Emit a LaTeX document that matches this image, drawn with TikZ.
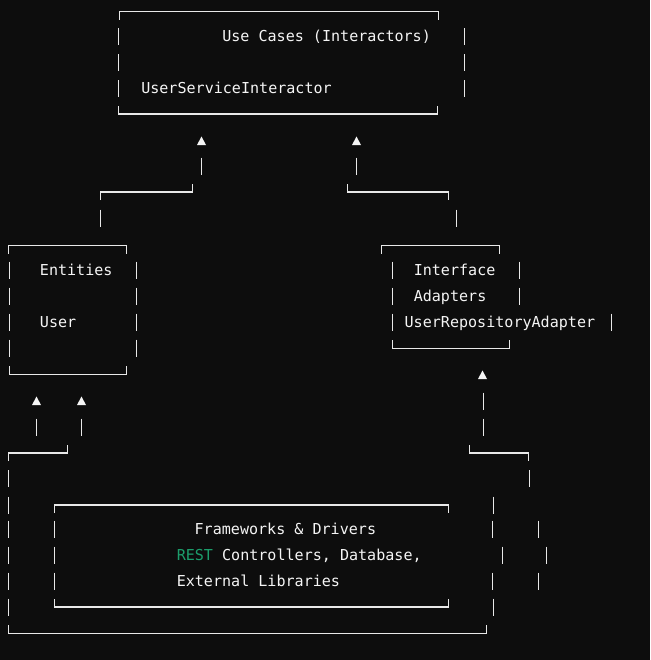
\documentclass[tikz,border=0pt]{standalone}
\usepackage{fontspec}
\setmonofont{DejaVu Sans Mono}
\usepackage{tikz}

\definecolor{termbg}{RGB}{13,13,13}
\definecolor{termline}{RGB}{232,232,232}
\definecolor{termtext}{RGB}{245,245,245}
\definecolor{termgreen}{RGB}{28,158,108}

\begin{document}
\begin{tikzpicture}[x=0.75pt,y=0.75pt,yscale=-1,xscale=1,
  box/.style={color=termline,line width=1pt},
  tip/.style={fill=termtext,draw=none},
  txt/.style={anchor=base west,inner sep=0pt,text=termtext,font=\ttfamily\fontsize{11.3}{13}\selectfont}]
%set diagram left start at 0, and has height of 660
\fill [termbg] (0,0) rectangle (650,660);

%Shape: Use Cases box
\draw [box] (119.5,19.7) -- (119.5,11.7) -- (438.5,11.7) -- (438.5,19.7) ;
\draw [box] (118.5,28.4) -- (118.5,45.4) (118.5,54.3) -- (118.5,71.3) (118.5,80.3) -- (118.5,97.3) ;
\draw [box] (464.5,28.4) -- (464.5,45.4) (464.5,54.3) -- (464.5,71.3) (464.5,80.3) -- (464.5,97.3) ;
\draw [box] (118.5,106) -- (118.5,114) -- (437.5,114) -- (437.5,106) ;

%Shape: arrows into Use Cases
\fill [tip] (197,145) -- (201.5,136.5) -- (206,145) -- cycle ;
\fill [tip] (352,145) -- (356.5,136.5) -- (361,145) -- cycle ;
\draw [box] (201.5,157.5) -- (201.5,174.5) ;
\draw [box] (356.5,157.5) -- (356.5,174.5) ;
\draw [box] (100.5,200) -- (100.5,192) -- (192.5,192) -- (192.5,184) ;
\draw [box] (347.5,184) -- (347.5,192) -- (448.5,192) -- (448.5,200) ;
\draw [box] (100.5,209.5) -- (100.5,226.5) ;
\draw [box] (456.5,209.5) -- (456.5,226.5) ;

%Shape: Entities box
\draw [box] (8.5,253.5) -- (8.5,245.5) -- (126.5,245.5) -- (126.5,253.5) ;
\draw [box] (9.5,261.7) -- (9.5,278.7) (9.5,287.5) -- (9.5,304.5) (9.5,313.5) -- (9.5,330.5) (9.5,339.5) -- (9.5,356.5) ;
\draw [box] (136.5,261.7) -- (136.5,278.7) (136.5,287.5) -- (136.5,304.5) (136.5,313.5) -- (136.5,330.5) (136.5,339.5) -- (136.5,356.5) ;
\draw [box] (9.5,366) -- (9.5,374.3) -- (126.5,374.3) -- (126.5,366) ;

%Shape: Interface Adapters box
\draw [box] (381.5,253.5) -- (381.5,245.5) -- (499.5,245.5) -- (499.5,253.5) ;
\draw [box] (392.5,261.7) -- (392.5,278.7) (392.5,287.5) -- (392.5,304.5) (392.5,313.5) -- (392.5,330.5) ;
\draw [box] (519.5,261.7) -- (519.5,278.7) (519.5,287.5) -- (519.5,304.5) ;
\draw [box] (611.5,313.5) -- (611.5,330.5) ;
\draw [box] (392.5,340) -- (392.5,348.3) -- (509.5,348.3) -- (509.5,340) ;

%Shape: arrows into Entities and Interface Adapters
\fill [tip] (478,379) -- (482.5,370.5) -- (487,379) -- cycle ;
\fill [tip] (32,405) -- (36.5,396.5) -- (41,405) -- cycle ;
\fill [tip] (77,405) -- (81.5,396.5) -- (86,405) -- cycle ;
\draw [box] (483.5,392.5) -- (483.5,409.5) (483.5,418.5) -- (483.5,435.5) ;
\draw [box] (36.5,418.5) -- (36.5,435.5) ;
\draw [box] (81.5,418.5) -- (81.5,435.5) ;
\draw [box] (8.5,461) -- (8.5,453) -- (67.5,453) -- (67.5,445) ;
\draw [box] (469.5,445) -- (469.5,453) -- (528.5,453) -- (528.5,461) ;
\draw [box] (529.5,470) -- (529.5,487) ;

%Shape: outer Frameworks frame
\draw [box] (8.5,470) -- (8.5,487) (8.5,496.5) -- (8.5,513.5) (8.5,520.5) -- (8.5,537.5) (8.5,546.5) -- (8.5,563.5) (8.5,572.5) -- (8.5,589.5) (8.5,598.5) -- (8.5,615.5) ;
\draw [box] (493.5,496.5) -- (493.5,513.5) (492.5,520.5) -- (492.5,537.5) (502.5,546.5) -- (502.5,563.5) (492.5,572.5) -- (492.5,589.5) (493.5,598.5) -- (493.5,615.5) ;
\draw [box] (538.5,520.5) -- (538.5,537.5) (546.5,546.5) -- (546.5,563.5) (538.5,572.5) -- (538.5,589.5) ;
\draw [box] (8.5,625) -- (8.5,633.3) -- (486.5,633.3) -- (486.5,625) ;

%Shape: inner Frameworks box
\draw [box] (54.5,513) -- (54.5,505) -- (448.5,505) -- (448.5,513) ;
\draw [box] (54.5,520.5) -- (54.5,537.5) (54.5,546.5) -- (54.5,563.5) (54.5,572.5) -- (54.5,589.5) ;
\draw [box] (54.5,599) -- (54.5,607) -- (448.5,607) -- (448.5,599) ;

% Text Node
\node [txt] (usecases) at (222,41.9) {Use Cases (Interactors)};
% Text Node
\node [txt] (interactor) at (141,93.8) {UserServiceInteractor};
% Text Node
\node [txt] (entities) at (39.7,275.2) {Entities};
% Text Node
\node [txt] (user) at (39.7,327) {User};
% Text Node
\node [txt] (iface) at (413.5,275.2) {Interface};
% Text Node
\node [txt] (adapters) at (413.5,301) {Adapters};
% Text Node
\node [txt] (repoadapter) at (404.4,327) {UserRepositoryAdapter};
% Text Node
\node [txt] (frameworks) at (194.4,534) {Frameworks \& Drivers};
% Text Node
\node [txt] (controllers) at (176.5,560) {{\color{termgreen}REST} Controllers, Database,};
% Text Node
\node [txt] (libraries) at (176.5,586) {External Libraries};

\end{tikzpicture}
\end{document}
